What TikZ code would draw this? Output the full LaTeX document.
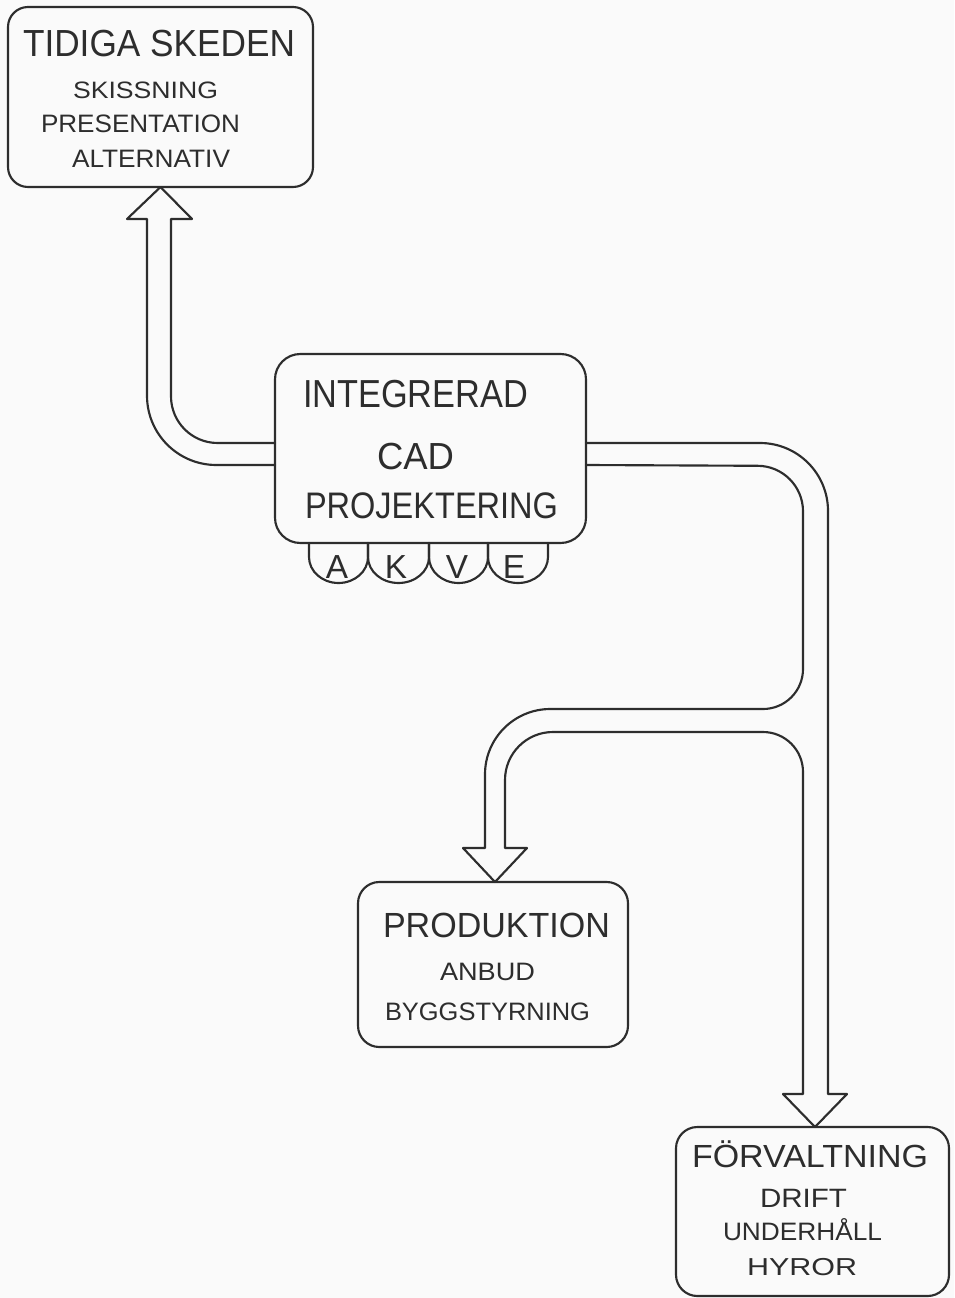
\documentclass[tikz,border=0pt]{standalone}
\usepackage{fontspec}
\newfontfamily\lett{Liberation Sans}
\newlength\pxu
\setlength\pxu{0.75pt}
% lettering: width in px, font size in pt, text (stretched horizontally only)
\newcommand\lt[3]{\resizebox{#1\pxu}{\height}{\fontsize{#2}{#2}\selectfont\lett #3}}
\newcommand\ltn[2]{{\fontsize{#1}{#1}\selectfont\lett #2}}
\definecolor{ink}{RGB}{45,45,45}
\definecolor{paper}{RGB}{250,250,250}
\begin{document}
\begin{tikzpicture}[x=0.75pt, y=-0.75pt, line join=round, line cap=round,
  box/.style={draw=ink, line width=1.6pt, rounded corners=15pt, outer sep=0pt, inner sep=0pt},
  txt/.style={inner sep=0pt, outer sep=0pt, text=ink},
  outline/.style={draw=ink, line width=1.6pt}]
\fill[paper] (0,0) rectangle (954,1298);
\useasboundingbox (0,0) rectangle (954,1298);

% boxes
\node[box, minimum width=305\pxu, minimum height=180\pxu] (tidiga) at (160.5,97) {};
\node[box, rounded corners=19pt, minimum width=311\pxu, minimum height=189\pxu] (cad) at (430.5,448.5) {};
\node[box, rounded corners=16pt, minimum width=270\pxu, minimum height=165\pxu] (prod) at (493,964.5) {};
\node[box, rounded corners=16pt, minimum width=273\pxu, minimum height=169\pxu] (forv) at (812.5,1211.5) {};

% discipline tabs under the CAD box
\foreach \a/\b in {309/368, 368/429, 429/488, 488/548}{
  \pgfmathsetmacro\r{(\b-\a)/2}
  \draw[outline] (\a,543) -- (\a,557) arc[start angle=180, end angle=0, x radius=\r, y radius=26] -- (\b,543);
}
\node[txt] (tA) at (337,567) {\ltn{25}{A}};
\node[txt] (tK) at (396,567) {\ltn{25}{K}};
\node[txt] (tV) at (457,567) {\ltn{25}{V}};
\node[txt] (tE) at (514,567) {\ltn{25}{E}};

% texts
\node[txt, anchor=base west] (t1) at (23,57)  {\lt{272}{28.3}{TIDIGA SKEDEN}};
\node[txt, anchor=base west] (t2) at (73,99)  {\lt{145}{17.8}{SKISSNING}};
\node[txt, anchor=base west] (t3) at (41,133) {\lt{199}{18.9}{PRESENTATION}};
\node[txt, anchor=base west] (t4) at (72,168) {\lt{158}{18.9}{ALTERNATIV}};

\node[txt, anchor=base west] (c1) at (303,407) {\lt{225}{29.3}{INTEGRERAD}};
\node[txt, anchor=base west] (c2) at (377,469) {\lt{77}{28.3}{CAD}};
\node[txt, anchor=base west] (c3) at (305,518) {\lt{253}{27.7}{PROJEKTERING}};

\node[txt, anchor=base west] (p1) at (383,937)  {\lt{227}{26.2}{PRODUKTION}};
\node[txt, anchor=base west] (p2) at (440,980)  {\lt{95}{18.9}{ANBUD}};
\node[txt, anchor=base west] (p3) at (385,1020) {\lt{205}{18.9}{BYGGSTYRNING}};

\node[txt, anchor=base west] (f1) at (692,1167) {\lt{236}{24}{FÖRVALTNING}};
\node[txt, anchor=base west] (f2) at (760,1207) {\lt{87}{19.9}{DRIFT}};
\node[txt, anchor=base west] (f3) at (723,1240) {\lt{159}{18.9}{UNDERHÅLL}};
\node[txt, anchor=base west] (f4) at (747,1275) {\lt{110}{18.4}{HYROR}};

% hollow arrows (a corner takes the rounding set for the segment that reaches it)
\coordinate (yU) at (0,443);
\coordinate (yL) at (0,465);
\coordinate (xP) at (495,0);
\coordinate (xF) at (815,0);

\draw[outline] (cad.west |- yL) [rounded corners=52pt] -- (147,465)
  [sharp corners] -- (147,219) -- (127,219) -- (tidiga.south) -- (192,219) -- (171,219)
  [rounded corners=35pt] -- (171,443)
  [sharp corners] -- (cad.west |- yU);

\draw[outline] (cad.east |- yU) [rounded corners=51pt] -- (828,443)
  [sharp corners] -- (828,1094) -- (847,1094) -- (xF |- forv.north) -- (783,1094) -- (803,1094)
  [rounded corners=30pt] -- (803,732)
  [rounded corners=36pt] -- (505,732)
  [sharp corners] -- (505,848) -- (527,848) -- (xP |- prod.north) -- (463,848) -- (485,848)
  [rounded corners=49pt] -- (485,709)
  [rounded corners=30pt] -- (803,709)
  [rounded corners=34pt] -- (803,466)
  [sharp corners] -- (cad.east |- yL);
\end{tikzpicture}
\end{document}
